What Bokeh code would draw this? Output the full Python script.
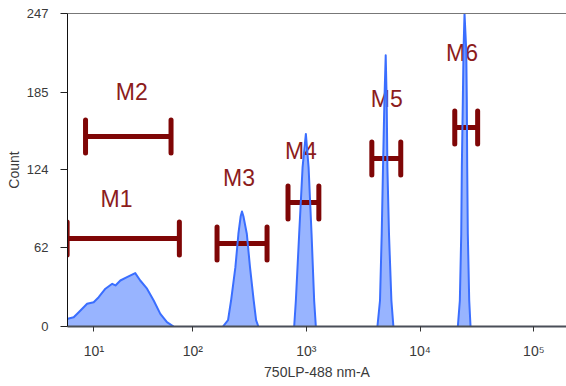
import numpy as np
from bokeh.plotting import figure
from bokeh.models import Range1d, FixedTicker, LinearAxis
from bokeh.core.properties import value
from bokeh.embed import file_html
from bokeh.resources import INLINE

# ---------------- data ----------------
# histogram peaks: intensity (750LP-488 nm-A) and count
peak1_x = [1.0, 1.9, 3.6, 5.1, 7.7, 9.9, 11.7, 14.3, 17.2, 18.7, 21.1, 24.7, 29.8, 33.3, 38.6, 44.5, 51.2, 58.8, 67.5]
peak1_y = [5.5, 6.1, 7.3, 11.3, 17.9, 19.2, 23.1, 29.8, 33.7, 32.4, 36.3, 38.9, 42.1, 36.3, 29.8, 20.5, 10.0, 3.4, 0]
peak2_x = [185, 205, 218, 238, 253, 265, 272, 280, 300, 320, 345, 362, 379]
peak2_y = [0, 5, 20.5, 46.8, 73.2, 87, 90.8, 87, 73.2, 46.8, 20.5, 5, 0]
peak3_x = [783, 810, 866, 928, 992, 1048, 1113, 1173, 1214]
peak3_y = [0, 20.5, 73, 125.7, 152, 125.7, 73, 20.5, 0]
peak4_x = [4221, 4448, 4605, 4727, 4862, 4992, 5093, 5166, 5336, 5601, 5833]
peak4_y = [0, 20.5, 73, 125.7, 178, 214, 178, 125.7, 73, 20.5, 0]
peak5_x = [21500, 22390, 23030, 23310, 23780, 24120, 24610, 25480, 25780, 25990, 26310, 27070, 27790]
peak5_y = [0, 20.5, 73, 125.7, 178, 218, 247, 218, 178, 125.7, 73, 20.5, 0]

# marker gates
marker_names = ["M1", "M2", "M3", "M4", "M5", "M6"]
marker_left = [1.7, 7.2, 164, 691, 3770, 20200]
marker_right = [76, 64, 452, 1290, 6770, 32100]
marker_level = [69.4, 150, 65.5, 97.9, 132.6, 157]
label_x = [19.2, 27.6, 256, 897, 5093, 23400]
label_y = [101, 184.7, 116.8, 138.1, 179.2, 215.5]

y_ticks = [0, 62, 124, 185, 247]
x_tick_values = [10, 100, 1000, 10000, 100000]
x_tick_labels = ["10\u00b9", "10\u00b2", "10\u00b3", "10\u2074", "10\u2075"]
x_lo, x_hi = 1.81, 193900
y_lo, y_hi = 0, 247

# ---------------- display transform (biexponential-like axis) ----------------
COF = 14.0
def disp(v):
    return np.arcsinh(np.asarray(v, dtype=float) / COF) / np.log(10)

FONT = "Liberation Sans"
TXT = "#3a3a3a"
FILL = "#98b4ff"
EDGE = "#3a6eff"
RED = "#7f0606"
CAP = 13

p = figure(width=566, height=386, output_backend="svg", toolbar_location=None,
           x_range=Range1d(float(disp(x_lo)), float(disp(x_hi))),
           y_range=Range1d(y_lo, y_hi),
           min_border_left=67, min_border_right=0, min_border_top=13, min_border_bottom=60)
p.outline_line_color = None
p.xgrid.visible = False
p.ygrid.visible = False
p.background_fill_color = "white"
p.border_fill_color = "white"

peaks = [(peak1_x, peak1_y), (peak2_x, peak2_y), (peak3_x, peak3_y), (peak4_x, peak4_y), (peak5_x, peak5_y)]
xs_fill, ys_fill, xs_line, ys_line = [], [], [], []
for px, py in peaks:
    tx = list(disp(px))
    xs_fill.append([tx[0]] + tx + [tx[-1]])
    ys_fill.append([0] + list(py) + [0])
    xs_line.append(tx)
    ys_line.append(list(py))

# histogram fill
p.patches(xs_fill, ys_fill, fill_color=FILL, line_color=None)

# marker gates
ml = disp(marker_left)
mr = disp(marker_right)
lv = np.array(marker_level, dtype=float)
p.segment(x0=ml, y0=lv, x1=mr, y1=lv, line_color=RED, line_width=5)
p.segment(x0=ml, y0=lv - CAP, x1=ml, y1=lv + CAP, line_color=RED, line_width=5, line_cap="round")
p.segment(x0=mr, y0=lv - CAP, x1=mr, y1=lv + CAP, line_color=RED, line_width=5, line_cap="round")
p.text(x=disp(label_x), y=label_y, text=marker_names, text_align="center", text_baseline="middle",
       text_font=value(FONT), text_font_size="23px", text_color="#8c1c1c")

# histogram outline
p.multi_line(xs_line, ys_line, line_color=EDGE, line_width=2, line_join="round")

# axes
xa = p.xaxis[0]
tick_pos = [round(float(t), 8) for t in disp(x_tick_values)]
xa.ticker = FixedTicker(ticks=tick_pos)
xa.major_label_overrides = {t: lab for t, lab in zip(tick_pos, x_tick_labels)}
xa.minor_tick_line_color = None
xa.major_tick_in = 0
xa.major_tick_out = 5
xa.major_tick_line_color = "#333333"
xa.axis_line_color = "#4a4f58"
xa.axis_line_width = 2
xa.major_label_standoff = 11
xa.major_label_text_font = FONT
xa.major_label_text_font_size = "14px"
xa.major_label_text_color = TXT
xa.axis_label = "750LP-488 nm-A"
xa.axis_label_text_font = FONT
xa.axis_label_text_font_size = "14px"
xa.axis_label_text_font_style = "normal"
xa.axis_label_text_color = TXT
xa.axis_label_standoff = 2

ya = p.yaxis[0]
ya.ticker = FixedTicker(ticks=y_ticks)
ya.minor_tick_line_color = None
ya.major_tick_in = 0
ya.major_tick_out = 7
ya.major_tick_line_color = "#222222"
ya.axis_line_color = "#111111"
ya.axis_line_width = 1
ya.major_label_standoff = 12
ya.major_label_text_font = FONT
ya.major_label_text_font_size = "13px"
ya.major_label_text_color = TXT
ya.axis_label = "Count"
ya.axis_label_text_font = FONT
ya.axis_label_text_font_size = "14px"
ya.axis_label_text_font_style = "normal"
ya.axis_label_text_color = TXT
ya.axis_label_standoff = 2

top = LinearAxis(ticker=FixedTicker(ticks=[]), axis_line_color="#777777", axis_line_width=1,
                 major_tick_line_color=None, minor_tick_line_color=None)
p.add_layout(top, "above")

open("out.html", "w").write(file_html(p, INLINE))
